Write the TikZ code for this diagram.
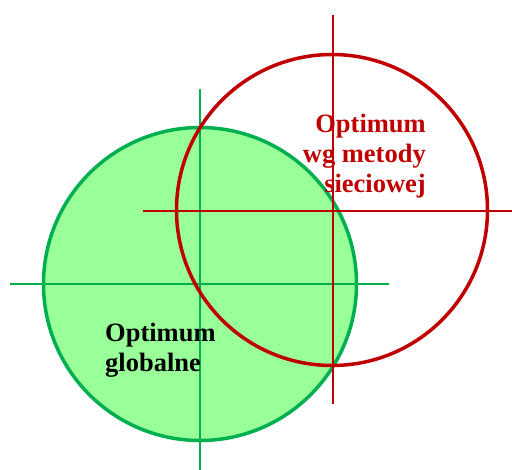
\documentclass[tikz,border=0pt]{standalone}
\usepackage{fontspec}
\setmainfont{Liberation Serif}
\definecolor{gfill}{HTML}{99FF99}
\definecolor{gline}{HTML}{00B050}
\definecolor{rline}{HTML}{C00000}
\tikzset{
  circ/.style={line width=3.5pt},
  cross/.style={line width=1.5pt},
  lbl/.style={inner sep=0pt, font=\fontsize{26.5}{30}\selectfont\bfseries}
}
\begin{document}
\begin{tikzpicture}[x=1pt,y=-1pt]
\useasboundingbox (0,0) rectangle (512,470);
% green circle
\fill[gfill] (200,284) circle (156.5);
\draw[circ, gline] (200,284) circle (156.5);
\coordinate (gt) at (200,89);
\coordinate (gb) at (200,470);
\coordinate (gl) at (10,284);
\coordinate (gr) at (389,284);
\draw[cross, gline] (gt) -- (gb);
\draw[cross, gline] (gl) -- (gr);
% red circle
\draw[circ, rline] (332,210) circle (155.5);
\coordinate (rt) at (333,15);
\coordinate (rb) at (333,404);
\coordinate (rl) at (143,211);
\coordinate (rr) at (512,211);
\draw[cross, rline] (rt) -- (rb);
\draw[cross, rline] (rl) -- (rr);
% labels
\node[lbl, text=rline, anchor=base east] (r1) at (426,133) {Optimum};
\node[lbl, text=rline, anchor=base east] (r2) at (426,163) {wg metody};
\node[lbl, text=rline, anchor=base east] (r3) at (426,193) {sieciowej};
\node[lbl, text=black, anchor=base west] (g1) at (105,342) {Optimum};
\node[lbl, text=black, anchor=base west] (g2) at (105,372) {globalne};
\end{tikzpicture}
\end{document}
